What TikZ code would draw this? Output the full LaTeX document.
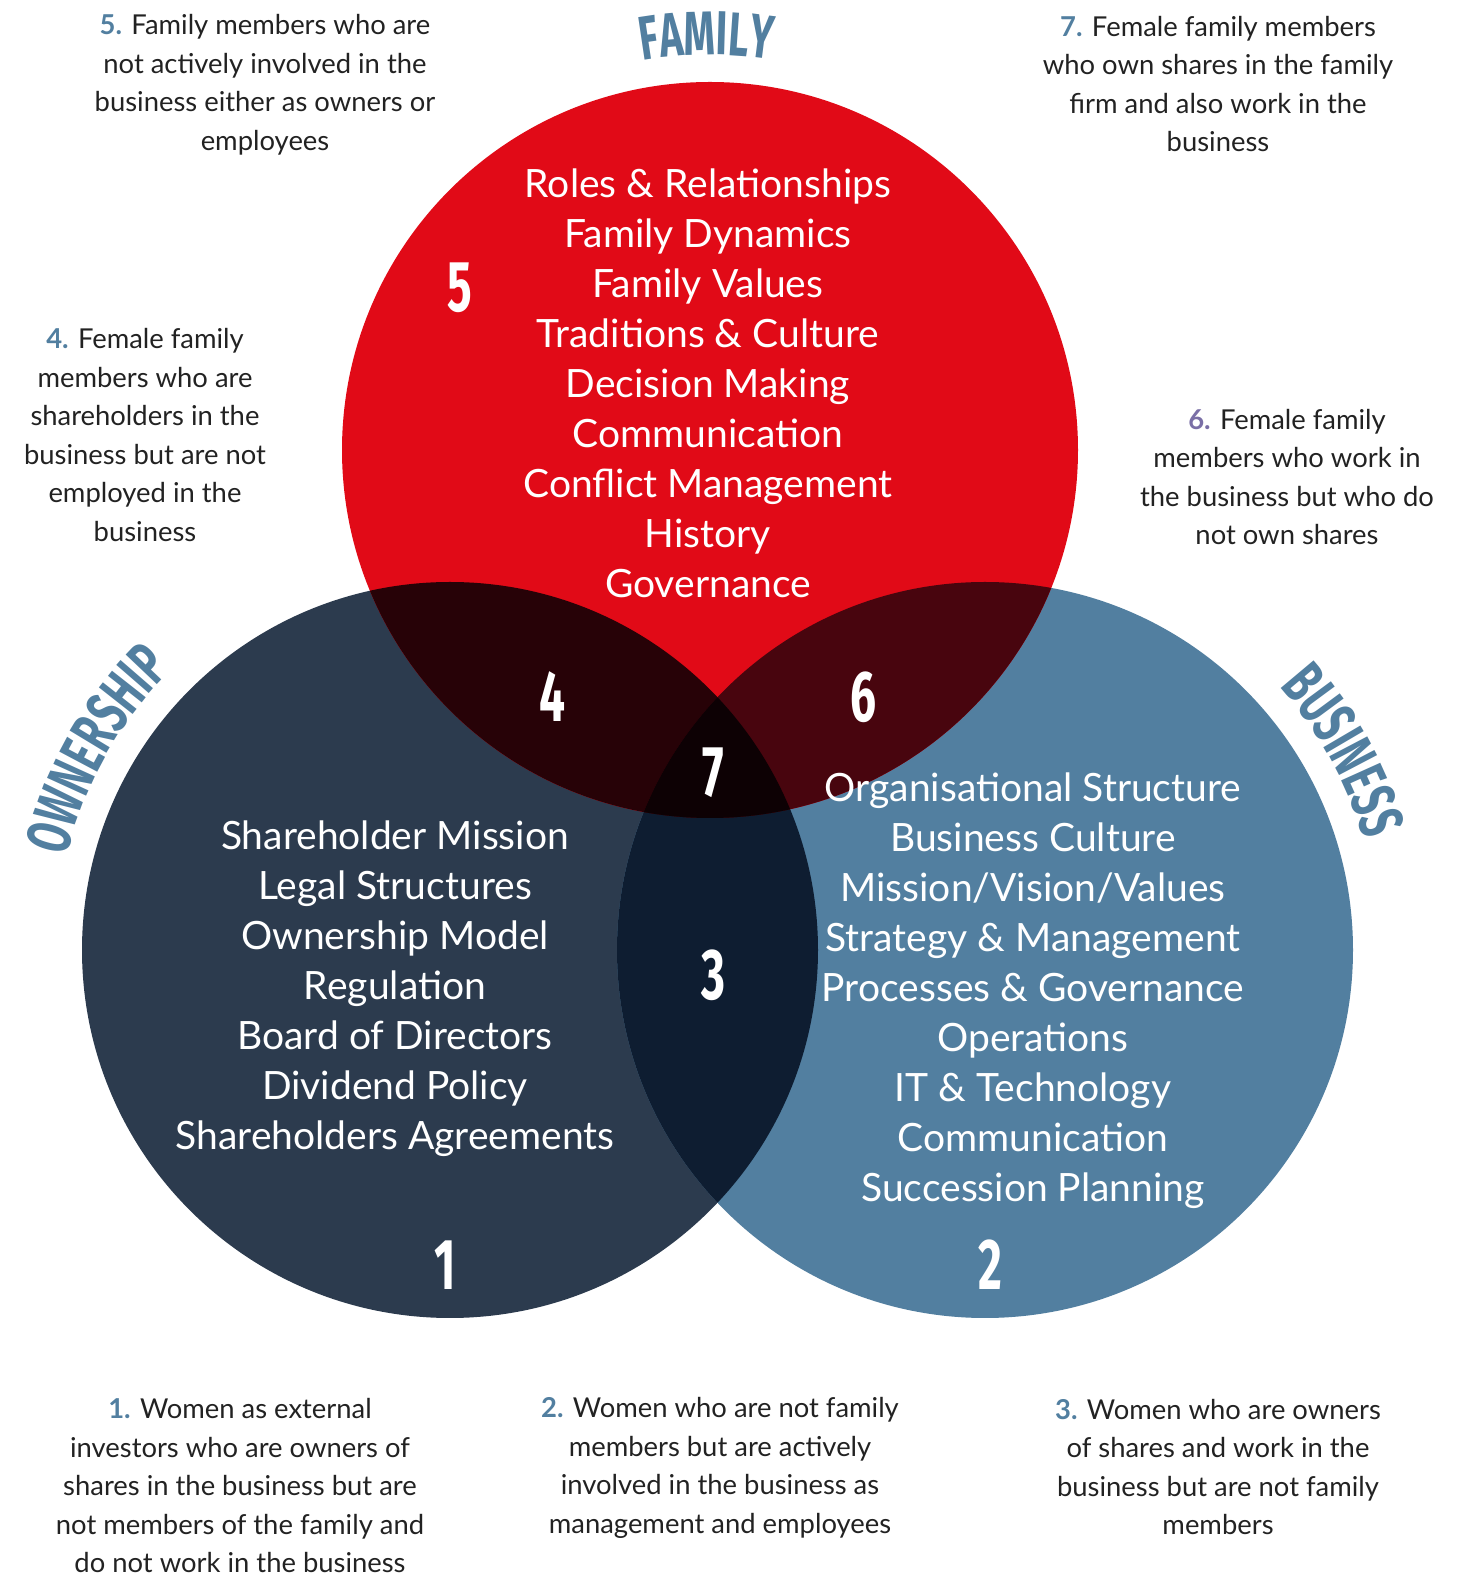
\documentclass[tikz,border=0pt]{standalone}
\usepackage{fontspec}
\setmainfont{Lato}
\newfontfamily\condfont{Fira Sans}[FakeStretch=0.64]
\usepackage{xcolor}
\usetikzlibrary{decorations.text}
\definecolor{famred}{HTML}{E10A17}
\definecolor{ownnavy}{HTML}{2C3B4E}
\definecolor{busblue}{HTML}{527FA0}
\definecolor{fo}{HTML}{270207}
\definecolor{fb}{HTML}{48050E}
\definecolor{ob}{HTML}{0E1D31}
\definecolor{fob}{HTML}{0D0104}
\definecolor{numpurple}{HTML}{7A6FA6}
\definecolor{txtgray}{HTML}{222222}
\newcommand{\titlefont}{\condfont\bfseries\fontsize{31}{31}\selectfont\color{busblue}}

\begin{document}
\begin{tikzpicture}[x=0.5pt,y=0.5pt]
% Three node styles: area lists, region numbers and notes
\tikzstyle{area}=[font=\fontsize{19.5}{25}\selectfont,text=white,align=center]
\tikzstyle{num}=[font=\condfont\bfseries\fontsize{36}{36}\selectfont,text=white]
\tikzstyle{note}=[font=\fontsize{13.7}{19.25}\selectfont,text=txtgray,align=center]
\useasboundingbox (0,0) rectangle (1475,1576);
% The circles
\coordinate (F) at (710,1126);
\coordinate (O) at (450,626);
\coordinate (B) at (985,626);
\fill[ownnavy] (O) circle[radius=368];
\fill[busblue] (B) circle[radius=368];
\fill[famred] (F) circle[radius=368];
% overlaps
\begin{scope}
\clip (O) circle[radius=368];
\fill[ob] (B) circle[radius=368];
\end{scope}
\begin{scope}
\clip (F) circle[radius=368];
\fill[fo] (O) circle[radius=368];
\fill[fb] (B) circle[radius=368];
\clip (O) circle[radius=368];
\fill[fob] (B) circle[radius=368];
\end{scope}
% titles
\path[decorate,decoration={text along path,text align=center,text={|\titlefont|FAMILY}}]
(F) ++(120:395) arc[start angle=120,end angle=61,radius=395];
\path[decorate,decoration={text along path,text align=center,text={|\titlefont|OWNERSHIP}}]
(O) ++(180:395) arc[start angle=180,end angle=121,radius=395];
\path[decorate,decoration={text along path,text align=center,text={|\titlefont|BUSINESS}}]
(B) ++(60:395) arc[start angle=60,end angle=-2,radius=395];
% areas
\node[area] (famtxt) at (708,1193) {Roles \& Relationships\\Family Dynamics\\Family Values\\Traditions \& Culture\\Decision Making\\Communication\\Conflict Management\\History\\Governance};
\node[area] (owntxt) at (395,587) {Shareholder Mission\\Legal Structures\\Ownership Model\\Regulation\\Board of Directors\\Dividend Policy\\Shareholders Agreements};
\node[area] (bustxt) at (1033,585) {Organisational Structure\\Business Culture\\Mission/Vision/Values\\Strategy \& Management\\Processes \& Governance\\Operations\\IT \& Technology\\Communication\\Succession Planning};
% numbers
\node[num] (n1) at (445,311) {1};
\node[num] (n2) at (990,311) {2};
\node[num] (n3) at (713,601) {3};
\node[num] (n4) at (553,879) {4};
\node[num] (n5) at (460,1288) {5};
\node[num] (n6) at (863,879) {6};
\node[num] (n7) at (713,803) {7};
% notes
\node[note] (t5) at (265,1491) {{\bfseries\color{busblue}5.} Family members who are\\not actively involved in the\\business either as owners or\\employees};
\node[note] (t7) at (1218,1492) {{\bfseries\color{busblue}7.} Female family members\\who own shares in the family\\firm and also work in the\\business};
\node[note] (t4) at (145,1141) {{\bfseries\color{busblue}4.} Female family\\members who are\\shareholders in the\\business but are not\\employed in the\\business};
\node[note] (t6) at (1287,1099) {{\bfseries\color{numpurple}6.} Female family\\members who work in\\the business but who do\\not own shares};
\node[note] (t1) at (240,90) {{\bfseries\color{busblue}1.} Women as external\\investors who are owners of\\shares in the business but are\\not members of the family and\\do not work in the business};
\node[note] (t2) at (720,108) {{\bfseries\color{busblue}2.} Women who are not family\\members but are actively\\involved in the business as\\management and employees};
\node[note] (t3) at (1218,109) {{\bfseries\color{busblue}3.} Women who are owners\\of shares and work in the\\business but are not family\\members};
\end{tikzpicture}
\end{document}
